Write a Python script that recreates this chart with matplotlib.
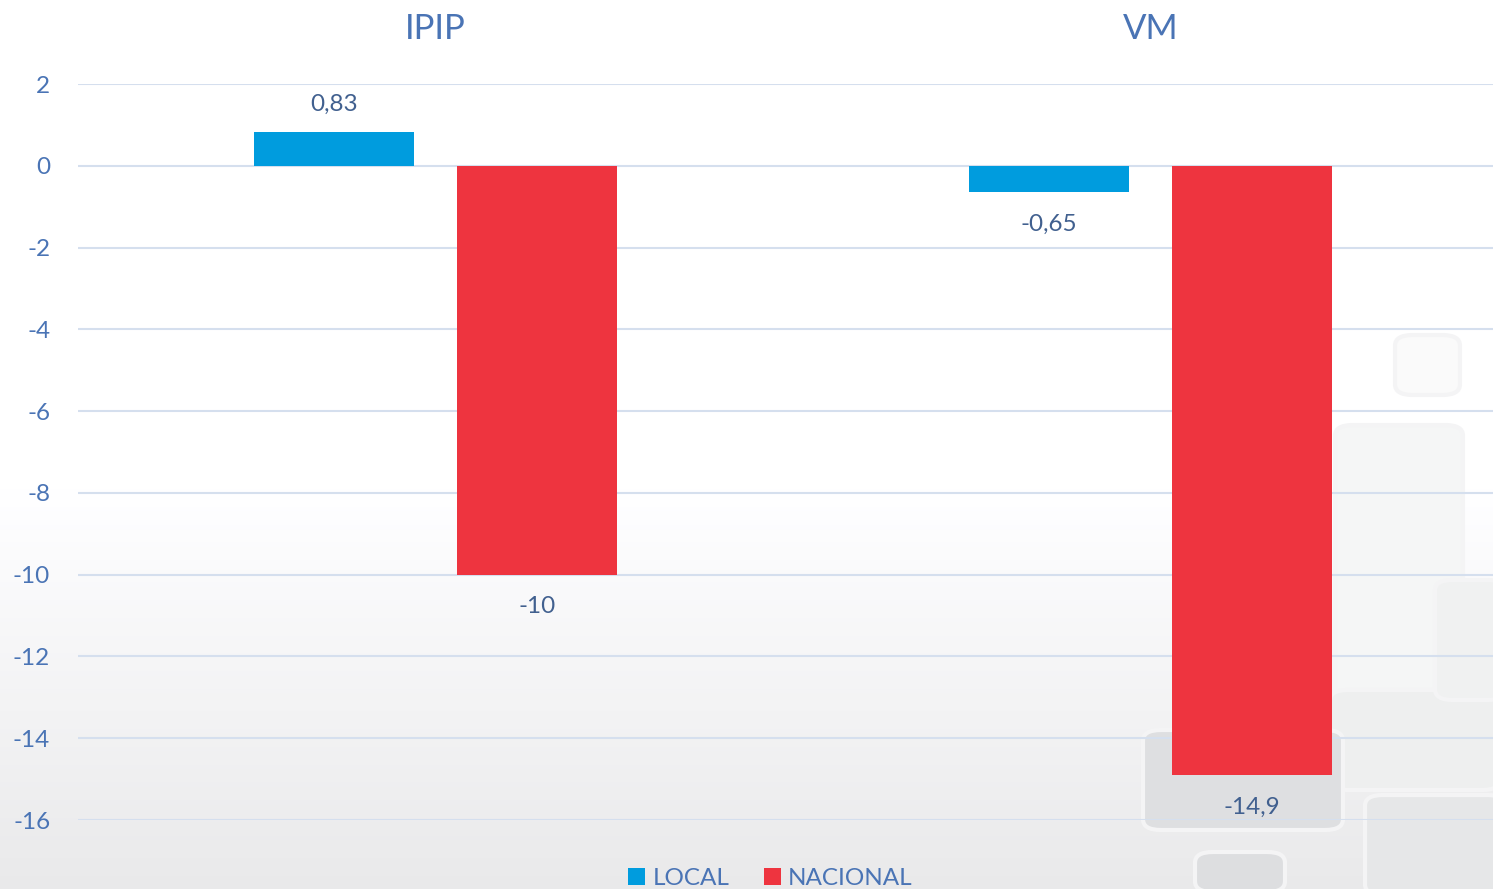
import matplotlib
matplotlib.use("Agg")
import matplotlib.pyplot as plt
import numpy as np
from matplotlib.patches import FancyBboxPatch

categories = ["IPIP", "VM"]
local_vals = [0.83, -0.65]
nacional_vals = [-10, -14.9]
local_labels = ["0,83", "-0,65"]
nacional_labels = ["-10", "-14,9"]
yticks = [2, 0, -2, -4, -6, -8, -10, -12, -14, -16]

BLUE = "#009CDE"
RED = "#EE343F"
TICK = "#4A74B5"
LABEL = "#41608F"
GRID = "#D5DFEE"

plt.rcParams['font.family'] = ['Lato', 'DejaVu Sans']

fig = plt.figure(figsize=(14.93, 8.89), dpi=100)

# background gradient (white top -> light grey bottom)
bg = fig.add_axes([0, 0, 1, 1], zorder=-10)
n = 200
grad = np.ones((n, 1))
for i in range(n):
	t = i / (n - 1)  # 0 bottom, 1 top
	if t > 0.45:
		grad[i, 0] = 1.0
	else:
		grad[i, 0] = 0.915 + 0.085 * (t / 0.45)
bg.imshow(np.dstack([grad, grad, grad * 1.005]).clip(0, 1), aspect="auto", origin="lower",
	extent=[0, 1, 0, 1])
bg.set_xlim(0, 1)
bg.set_ylim(0, 1)
bg.axis("off")

# faint decorative rounded blocks bottom right
W, H = 1493.0, 889.0
blocks = [
	(1395, 335, 65, 60, "#FAFAFA"),
	(1335, 425, 128, 320, "#F5F6F6"),
	(1330, 690, 170, 100, "#EEEFEF"),
	(1143, 730, 200, 100, "#DEDFE1"),
	(1195, 852, 90, 40, "#DDDEE0"),
	(1365, 795, 140, 100, "#E6E7E8"),
	(1435, 580, 70, 120, "#F0F1F1"),
]
for x, y, w, h, c in blocks:
	p = FancyBboxPatch((x / W, 1 - (y + h) / H), w / W, h / H,
		boxstyle="round,pad=0,rounding_size=0.012", fc=c, ec="#F4F4F5", lw=3,
		transform=bg.transAxes, zorder=1)
	bg.add_patch(p)

ax = fig.add_axes([0.0522, 0.0776, 0.9578, 0.8279])
ax.patch.set_alpha(0)

x = np.arange(len(categories))
width = 0.224
off = 0.142
b1 = ax.bar(x - off, local_vals, width, color=BLUE, label="LOCAL", zorder=3)
b2 = ax.bar(x + off, nacional_vals, width, color=RED, label="NACIONAL", zorder=3)

for bars, vals, labs in [(b1, local_vals, local_labels), (b2, nacional_vals, nacional_labels)]:
	for b, v, s in zip(bars, vals, labs):
		cx = b.get_x() + b.get_width() / 2
		dy = 28 if v >= 0 else -32
		ax.annotate(s, (cx, v), xytext=(0, dy), textcoords="offset pixels",
			ha="center", va="center", fontsize=17.5, color=LABEL)

ax.set_xlim(-0.5, 1.5)
ax.set_ylim(-16, 2)
ax.set_yticks(yticks)
ax.set_yticklabels([str(t) for t in yticks])
ax.tick_params(axis="y", length=0, labelsize=17.5, labelcolor=TICK, pad=20)
ax.yaxis.grid(True, color=GRID, lw=1.5, zorder=0)
ax.set_xticks(x)
ax.set_xticklabels(categories)
ax.xaxis.tick_top()
ax.tick_params(axis="x", length=0, labelsize=25, labelcolor=TICK, pad=28)
for s in ax.spines.values():
	s.set_visible(False)

leg = fig.legend(handles=[b1, b2], loc="center", bbox_to_anchor=(0.516, 0.012),
	ncol=2, frameon=False, fontsize=17.5, handlelength=0.7, handleheight=0.7,
	handletextpad=0.3, columnspacing=1.4, borderaxespad=0)
for t in leg.get_texts():
	t.set_color(TICK)

fig.savefig("out.png", dpi=100)
